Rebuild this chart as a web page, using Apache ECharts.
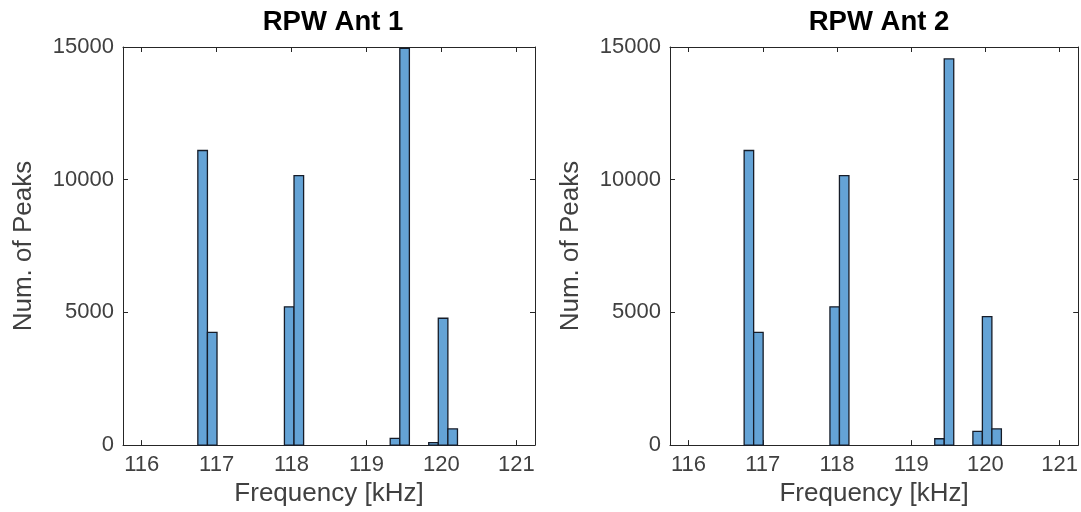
<!DOCTYPE html>
<html>
<head>
<meta charset="utf-8">
<title>RPW Ant histograms</title>
<script src="https://cdn.jsdelivr.net/npm/echarts@6/dist/echarts.min.js"></script>
<style>
  html, body { margin: 0; padding: 0; background: #fff; }
  #chart { width: 1081px; height: 512px; }
</style>
</head>
<body>
<div id="chart"></div>
<script>
// histogram bins (left edge, kHz) and counts
const binLeft = [116.749, 116.877, 117.905, 118.033, 119.317, 119.445, 119.831, 119.959, 120.087];
const binWidth = 0.128;
const ant1Counts = [11100, 4250, 5210, 10150, 250, 14950, 90, 4780, 610];
const ant2Counts = [11100, 4250, 5210, 10150, 240, 14550, 520, 4840, 610];
const titles = ["RPW Ant 1", "RPW Ant 2"];
const xTicks = [116, 117, 118, 119, 120, 121];
const yTicks = [0, 5000, 10000, 15000];

const FONT = "Liberation Sans";
const AXIS_COLOR = "#262626";
const LABEL_COLOR = "#404040";

const grids = [
  { left: 123, top: 47, width: 412, height: 401 },
  { left: 670, top: 47, width: 409, height: 401 }
];

function xAxisFor(gridIndex, bottom) {
  return {
    type: "value",
    gridIndex: gridIndex,
    position: bottom ? "bottom" : "top",
    min: 115.75,
    max: 121.25,
    name: bottom ? "Frequency [kHz]" : "",
    nameLocation: "middle",
    nameGap: 34,
    nameTextStyle: { fontFamily: FONT, fontSize: 26, color: LABEL_COLOR },
    axisLine: { show: true, onZero: false, lineStyle: { color: AXIS_COLOR, width: 1 } },
    axisTick: { show: true, inside: true, length: 5, customValues: xTicks, lineStyle: { color: AXIS_COLOR } },
    axisLabel: { show: bottom, customValues: xTicks, margin: 9, fontFamily: FONT, fontSize: 22, color: LABEL_COLOR },
    splitLine: { show: false }
  };
}

function yAxisFor(gridIndex, left) {
  return {
    type: "value",
    gridIndex: gridIndex,
    position: left ? "left" : "right",
    min: 0,
    max: 15000,
    name: left ? "Num. of Peaks" : "",
    nameLocation: "middle",
    nameGap: 86,
    nameTextStyle: { fontFamily: FONT, fontSize: 26, color: LABEL_COLOR },
    axisLine: { show: true, onZero: false, lineStyle: { color: AXIS_COLOR, width: 1 } },
    axisTick: { show: true, inside: true, length: 5, customValues: yTicks, lineStyle: { color: AXIS_COLOR } },
    axisLabel: {
      show: left, customValues: yTicks, margin: 9, fontFamily: FONT, fontSize: 22, color: LABEL_COLOR,
      formatter: v => String(v)
    },
    splitLine: { show: false }
  };
}

function histSeries(idx, counts) {
  return {
    type: "custom",
    xAxisIndex: idx,
    yAxisIndex: idx,
    data: binLeft.map((x, i) => [x, x + binWidth, counts[i]]),
    renderItem: function (params, api) {
      const p0 = api.coord([api.value(0), api.value(2)]);
      const p1 = api.coord([api.value(1), 0]);
      return {
        type: "rect",
        shape: { x: p0[0], y: p0[1], width: p1[0] - p0[0], height: p1[1] - p0[1] },
        style: { fill: "#64a3d6", stroke: "#161c28", lineWidth: 1.3 }
      };
    }
  };
}

const chart = echarts.init(document.getElementById("chart"));
chart.setOption({
  animation: false,
  backgroundColor: "#fff",
  title: [
    { text: titles[0], left: 328, top: 3, textAlign: "center",
      textStyle: { fontFamily: FONT, fontSize: 27.5, fontWeight: "bold", color: "#000" } },
    { text: titles[1], left: 874, top: 3, textAlign: "center",
      textStyle: { fontFamily: FONT, fontSize: 27.5, fontWeight: "bold", color: "#000" } }
  ],
  grid: grids,
  xAxis: [xAxisFor(0, true), xAxisFor(1, true), xAxisFor(0, false), xAxisFor(1, false)],
  yAxis: [yAxisFor(0, true), yAxisFor(1, true), yAxisFor(0, false), yAxisFor(1, false)],
  series: [histSeries(0, ant1Counts), histSeries(1, ant2Counts)]
});
</script>
</body>
</html>
